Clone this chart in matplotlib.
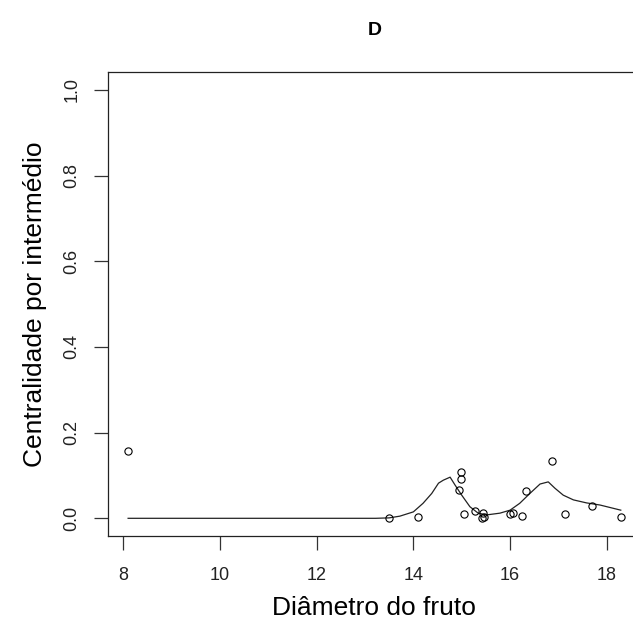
import matplotlib
matplotlib.use("Agg")
import matplotlib.pyplot as plt

plt.rcParams['font.family'] = ['Liberation Sans', 'DejaVu Sans']

# Fruit diameter vs betweenness centrality
diametro = [8.10, 13.50, 14.09, 14.98, 14.98, 14.94, 15.04, 15.28, 15.43, 15.42,
            15.47, 15.99, 16.07, 16.25, 16.32, 16.86, 17.13, 17.69, 18.29]
centralidade = [0.156, 0.000, 0.003, 0.109, 0.092, 0.065, 0.011, 0.018, 0.012, 0.000,
                0.003, 0.010, 0.013, 0.005, 0.063, 0.134, 0.010, 0.029, 0.002]

# Smoothed trend
curva_x = [8.10, 13.22, 13.50, 13.72, 14.00, 14.20, 14.38, 14.52, 14.62, 14.76,
           14.86, 15.00, 15.17, 15.34, 15.52, 15.79, 16.00, 16.20, 16.41, 16.62,
           16.79, 16.93, 17.10, 17.31, 17.58, 17.86, 18.29]
curva_y = [0.000, 0.000, 0.001, 0.005, 0.015, 0.035, 0.058, 0.082, 0.089, 0.096,
           0.078, 0.054, 0.027, 0.012, 0.008, 0.012, 0.019, 0.035, 0.058, 0.080,
           0.085, 0.070, 0.054, 0.043, 0.036, 0.031, 0.019]

x_ticks = [8, 10, 12, 14, 16, 18]
y_ticks = [0.0, 0.2, 0.4, 0.6, 0.8, 1.0]

fig = plt.figure(figsize=(6.33, 6.28), dpi=100)
ax = fig.add_axes([108 / 633, (628 - 536) / 628, (640.6 - 108) / 633, (536 - 72) / 628])

ax.plot(curva_x, curva_y, color='#222222', lw=0.9)
ax.plot(diametro, centralidade, linestyle='none', marker='o', ms=5.2,
        mfc='none', mec='black', mew=0.8)

ax.set_xlim(7.684, 18.7)
ax.set_ylim(-0.0413, 1.0416)
ax.set_xticks(x_ticks)
ax.set_xticklabels([str(v) for v in x_ticks])
ax.set_yticks(y_ticks)
ax.set_yticklabels([f"{v:.1f}" for v in y_ticks], rotation=90, va='center')

for s in ax.spines.values():
    s.set_linewidth(0.9)
    s.set_color('#222222')
ax.tick_params(axis='both', length=10, width=0.9, color='#333333',
               labelsize=13, labelcolor='#222222')
ax.tick_params(axis='x', pad=12)
ax.tick_params(axis='y', pad=10)

ax.set_xlabel('Diâmetro do fruto', fontsize=19, va='center')
ax.xaxis.set_label_coords(0.5, -72 / 464)
ax.set_ylabel('Centralidade por intermédio', fontsize=19, va='center')
ax.yaxis.set_label_coords(-73 / 532.6, 0.5)

ax.set_title('D', fontsize=14, fontweight='bold', pad=26.5)

fig.savefig('out.png', dpi=100)
